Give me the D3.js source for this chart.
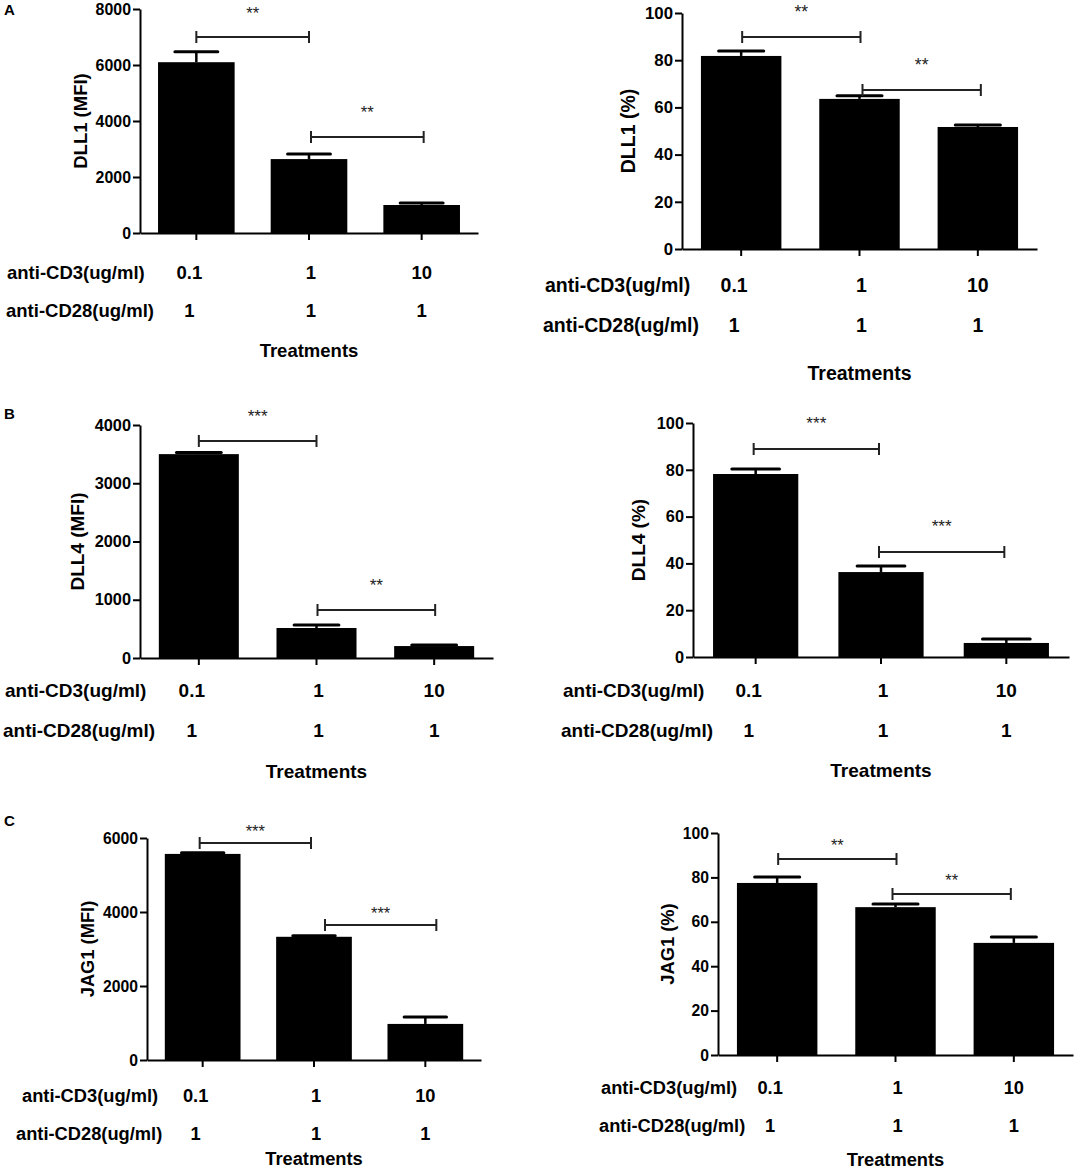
<!DOCTYPE html>
<html>
<head>
<meta charset="utf-8">
<title>DLL1, DLL4 and JAG1 expression by treatment</title>
<script src="https://cdn.jsdelivr.net/npm/d3@7"></script>
<style>
  body { margin: 0; background: #fff; }
  svg { display: block; }
</style>
</head>
<body>
<div id="chart"></div>
<script>
const FONT = "'Liberation Sans', Arial, Helvetica, sans-serif";

// Treatment rows under each x axis
const antiCD3 = ["0.1", "1", "10"];
const antiCD28 = ["1", "1", "1"];

// Y axis ticks
const dll1MfiTicks = [0, 2000, 4000, 6000, 8000];
const dll4MfiTicks = [0, 1000, 2000, 3000, 4000];
const jag1MfiTicks = [0, 2000, 4000, 6000];
const pctTicks = [0, 20, 40, 60, 80, 100];

// Means and error bars
const dll1Mfi = [6100, 2640, 1000];
const dll1MfiErr = [370, 180, 70];
const dll1Pct = [81.8, 63.6, 51.7];
const dll1PctErr = [2.1, 1.3, 0.8];

const dll4Mfi = [3500, 515, 205];
const dll4MfiErr = [30, 50, 18];
const dll4Pct = [78.2, 36.3, 6.0];
const dll4PctErr = [2.1, 2.6, 1.7];

const jag1Mfi = [5570, 3330, 975];
const jag1MfiErr = [30, 30, 190];
const jag1Pct = [77.5, 66.6, 50.5];
const jag1PctErr = [2.7, 1.4, 2.7];

// Significance brackets: [from group, to group, bracket height, label]
const dll1MfiSig = [[0, 1, 7000, "**"], [1, 2, 3430, "**"]];
const dll1PctSig = [[0, 1, 89.8, "**"], [1, 2, 67.4, "**"]];
const dll4MfiSig = [[0, 1, 3725, "***"], [1, 2, 824, "**"]];
const dll4PctSig = [[0, 1, 88.9, "***"], [1, 2, 44.9, "***"]];
const jag1MfiSig = [[0, 1, 5865, "***"], [1, 2, 3650, "***"]];
const jag1PctSig = [[0, 1, 88.3, "**"], [1, 2, 72.5, "**"]];

// Panel placement on the page (pixels)
const panels = [
  { letter: "A", letterY: 9, title: "DLL1 (MFI)", values: dll1Mfi, errors: dll1MfiErr, ticks: dll1MfiTicks, sig: dll1MfiSig,
    box: { x0: 140, x1: 478, yTop: 9, y0: 233, fs: 18.5, labelX: 80, rowX: 7, rowX2: 6, row1: 272, row2: 310, titleY: 350, starGap: 24, sigShift: [0, 2] } },
  { title: "DLL1 (%)", values: dll1Pct, errors: dll1PctErr, ticks: pctTicks, sig: dll1PctSig,
    box: { x0: 682, x1: 1037, yTop: 13, y0: 249, fs: 19.5, labelX: 628, rowX: 545, rowX2: 543, row1: 285, row2: 325, titleY: 373, starGap: 25, sigShift: [1, 3] } },
  { letter: "B", letterY: 413, title: "DLL4 (MFI)", values: dll4Mfi, errors: dll4MfiErr, ticks: dll4MfiTicks, sig: dll4MfiSig,
    box: { x0: 140, x1: 493, yTop: 425, y0: 658, fs: 19, labelX: 77, rowX: 5, rowX2: 3, row1: 690, row2: 730, titleY: 771, starGap: 25, sigShift: [0, 1] } },
  { title: "DLL4 (%)", values: dll4Pct, errors: dll4PctErr, ticks: pctTicks, sig: dll4PctSig,
    box: { x0: 693, x1: 1069, yTop: 423, y0: 657, fs: 19, labelX: 638, rowX: 563, rowX2: 561, row1: 690, row2: 730, titleY: 770, starGap: 25, sigShift: [-2, -2] } },
  { letter: "C", letterY: 820, title: "JAG1 (MFI)", values: jag1Mfi, errors: jag1MfiErr, ticks: jag1MfiTicks, sig: jag1MfiSig,
    box: { x0: 147, x1: 481, yTop: 838, y0: 1060, fs: 18.3, labelX: 87, rowX: 22, rowX2: 16, row1: 1095, row2: 1133, titleY: 1158, starGap: 12, sigShift: [-3, 11] } },
  { title: "JAG1 (%)", values: jag1Pct, errors: jag1PctErr, ticks: pctTicks, sig: jag1PctSig,
    box: { x0: 718, x1: 1073, yTop: 833, y0: 1055, fs: 18.3, labelX: 667, rowX: 601, rowX2: 599, row1: 1087, row2: 1125, titleY: 1159, starGap: 14, sigShift: [1, -3] } }
];

const svg = d3.select("#chart")
  .append("svg")
  .attr("width", 1078)
  .attr("height", 1168)
  .attr("font-family", FONT);

// nudges for the treatment numbers relative to bar centres
const rowShift = [-7, 2, 0];

function drawPanel(p) {
  const b = p.box;
  const g = svg.append("g");
  const groups = d3.range(antiCD3.length);

  const x = d3.scaleBand()
    .domain(groups)
    .range([b.x0, b.x1])
    .paddingInner(0.32)
    .paddingOuter(0.16);

  const y = d3.scaleLinear()
    .domain([0, d3.max(p.ticks)])
    .range([b.y0, b.yTop]);

  const cx = i => x(i) + x.bandwidth() / 2;
  const capHalf = x.bandwidth() * 0.28;

  // bars
  g.selectAll(".bar")
    .data(p.values)
    .enter()
    .append("rect")
    .attr("class", "bar")
    .attr("x", (d, i) => x(i))
    .attr("y", d => y(d))
    .attr("width", x.bandwidth())
    .attr("height", d => y(0) - y(d))
    .attr("fill", "#000");

  // error bars (upper half only, like the original)
  g.selectAll(".err")
    .data(p.values)
    .enter()
    .append("line")
    .attr("class", "err")
    .attr("x1", (d, i) => cx(i))
    .attr("x2", (d, i) => cx(i))
    .attr("y1", d => y(d))
    .attr("y2", (d, i) => y(d + p.errors[i]))
    .attr("stroke", "#000")
    .attr("stroke-width", 2.5);

  g.selectAll(".cap")
    .data(p.values)
    .enter()
    .append("line")
    .attr("class", "cap")
    .attr("x1", (d, i) => cx(i) - capHalf)
    .attr("x2", (d, i) => cx(i) + capHalf)
    .attr("y1", (d, i) => y(d + p.errors[i]))
    .attr("y2", (d, i) => y(d + p.errors[i]))
    .attr("stroke", "#000")
    .attr("stroke-width", 3)
    .attr("stroke-linecap", "round");

  // axes
  g.append("g")
    .attr("transform", `translate(${b.x0},0)`)
    .call(d3.axisLeft(y).tickValues(p.ticks).tickFormat(d3.format("d")).tickSize(7).tickPadding(2).tickSizeOuter(0))
    .attr("font-family", FONT)
    .attr("font-size", b.fs * 0.86)
    .attr("font-weight", "bold")
    .call(a => a.selectAll("path, line").attr("stroke-width", 2))
    .call(a => a.selectAll("text").attr("fill", "#000"));

  g.append("g")
    .attr("transform", `translate(0,${b.y0})`)
    .call(d3.axisBottom(x).tickSize(7).tickSizeOuter(0).tickFormat(""))
    .call(a => a.selectAll("path, line").attr("stroke-width", 2));

  // y axis title
  g.append("text")
    .attr("transform", `translate(${b.labelX},${(b.y0 + b.yTop) / 2}) rotate(-90)`)
    .attr("text-anchor", "middle")
    .attr("dominant-baseline", "central")
    .attr("font-size", b.fs)
    .attr("font-weight", "bold")
    .text(p.title);

  // treatment table under the x axis
  const rows = [
    { name: "anti-CD3(ug/ml)", vals: antiCD3, y: b.row1, x: b.rowX },
    { name: "anti-CD28(ug/ml)", vals: antiCD28, y: b.row2, x: b.rowX2 }
  ];
  rows.forEach(r => {
    g.append("text")
      .attr("x", r.x)
      .attr("y", r.y)
      .attr("dominant-baseline", "central")
      .attr("font-size", b.fs)
      .attr("font-weight", "bold")
      .text(r.name);

    g.selectAll(null)
      .data(r.vals)
      .enter()
      .append("text")
      .attr("x", (d, i) => cx(i) + rowShift[i])
      .attr("y", r.y)
      .attr("text-anchor", "middle")
      .attr("dominant-baseline", "central")
      .attr("font-size", b.fs)
      .attr("font-weight", "bold")
      .text(d => d);
  });

  g.append("text")
    .attr("x", (b.x0 + b.x1) / 2)
    .attr("y", b.titleY)
    .attr("text-anchor", "middle")
    .attr("dominant-baseline", "central")
    .attr("font-size", b.fs)
    .attr("font-weight", "bold")
    .text("Treatments");

  // significance brackets
  const sig = g.selectAll(".sig")
    .data(p.sig)
    .enter()
    .append("g")
    .attr("class", "sig")
    .attr("transform", (d, i) => `translate(${b.sigShift[i]},0)`);

  sig.append("path")
    .attr("d", d => {
      const xa = cx(d[0]), xb = cx(d[1]), yy = y(d[2]);
      return `M${xa},${yy - 6}V${yy + 6}M${xa},${yy}H${xb}M${xb},${yy - 6}V${yy + 6}`;
    })
    .attr("fill", "none")
    .attr("stroke", "#222")
    .attr("stroke-width", 2);

  sig.append("text")
    .attr("x", d => (cx(d[0]) + cx(d[1])) / 2)
    .attr("y", d => y(d[2]) - b.starGap)
    .attr("text-anchor", "middle")
    .attr("dominant-baseline", "central")
    .attr("font-size", b.fs * 0.9)
    .attr("fill", "#222")
    .text(d => d[3]);

  if (p.letter) {
    svg.append("text")
      .attr("x", 4)
      .attr("y", p.letterY)
      .attr("dominant-baseline", "central")
      .attr("font-size", 15)
      .attr("font-weight", "bold")
      .text(p.letter);
  }
}

panels.forEach(drawPanel);
</script>
</body>
</html>
